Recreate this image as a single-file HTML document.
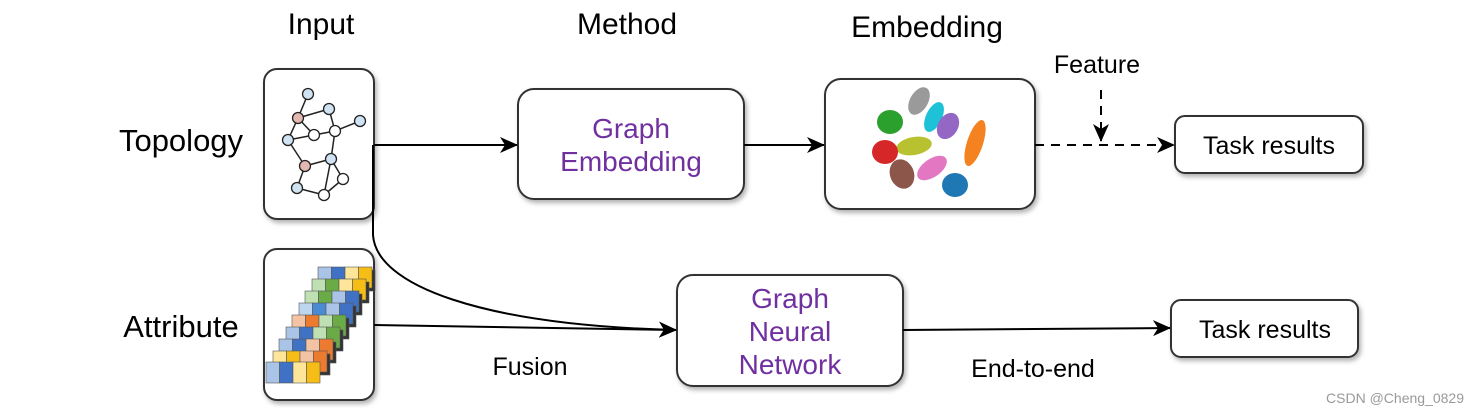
<!DOCTYPE html>
<html><head><meta charset="utf-8"><style>
html,body{margin:0;padding:0;background:#fff;}
svg{display:block;font-family:"Liberation Sans",Arial,sans-serif;}
</style></head><body>
<svg width="1478" height="417" viewBox="0 0 1478 417" xmlns="http://www.w3.org/2000/svg">
<defs>
<filter id="sh" x="-10%" y="-10%" width="125%" height="130%"><feDropShadow dx="2" dy="3" stdDeviation="2.5" flood-color="#000" flood-opacity="0.3"/></filter>
<marker id="ah" markerWidth="18" markerHeight="16" refX="17" refY="8" orient="auto" markerUnits="userSpaceOnUse"><path d="M0,0 L18,8 L0,16 L5,8 Z" fill="#000"/></marker>
</defs>
<g fill="#fff" stroke="#333" stroke-width="2" filter="url(#sh)">
<rect x="264" y="69" width="110" height="150" rx="13"/>
<rect x="264" y="249" width="110" height="151" rx="13"/>
<rect x="518" y="89" width="226" height="110" rx="16"/>
<rect x="825" y="79" width="210" height="130" rx="16"/>
<rect x="1175" y="116" width="188" height="57" rx="10"/>
<rect x="677" y="275" width="226" height="111" rx="16"/>
<rect x="1171" y="300" width="187" height="57" rx="10"/>
</g>
<!-- graph -->
<g stroke="#222" stroke-width="1.5">
<line x1="308" y1="94" x2="298" y2="118"/><line x1="298" y1="118" x2="329" y2="109"/><line x1="329" y1="109" x2="335" y2="131"/><line x1="335" y1="131" x2="360" y2="121"/><line x1="298" y1="118" x2="314" y2="135"/><line x1="298" y1="118" x2="288" y2="140"/><line x1="288" y1="140" x2="314" y2="135"/><line x1="314" y1="135" x2="335" y2="131"/><line x1="335" y1="131" x2="331" y2="159"/><line x1="288" y1="140" x2="305" y2="166"/><line x1="305" y1="166" x2="331" y2="159"/><line x1="305" y1="166" x2="297" y2="188"/><line x1="297" y1="188" x2="324" y2="195"/><line x1="324" y1="195" x2="331" y2="159"/><line x1="331" y1="159" x2="343" y2="179"/><line x1="343" y1="179" x2="324" y2="195"/>
</g>
<g stroke="#222" stroke-width="1.3">
<circle cx="308" cy="94" r="5.5" fill="#cfe3f3"/><circle cx="298" cy="118" r="5.5" fill="#e3b8b0"/><circle cx="329" cy="109" r="5.5" fill="#cfe3f3"/><circle cx="360" cy="121" r="5.5" fill="#cfe3f3"/><circle cx="314" cy="135" r="5.5" fill="#fff"/><circle cx="335" cy="131" r="5.5" fill="#fff"/><circle cx="288" cy="140" r="5.5" fill="#cfe3f3"/><circle cx="305" cy="166" r="5.5" fill="#e3b8b0"/><circle cx="331" cy="159" r="5.5" fill="#cfe3f3"/><circle cx="343" cy="179" r="5.5" fill="#fff"/><circle cx="297" cy="188" r="5.5" fill="#cfe3f3"/><circle cx="324" cy="195" r="5.5" fill="#fff"/>
</g>
<!-- attribute stacks -->
<g stroke="#555" stroke-width="0.6">
<g transform="translate(318,267)"><rect x="3" y="3" width="54" height="21" fill="#333"/><rect width="13.5" height="21" fill="#a9c4e6"/><rect x="13.5" width="13.5" height="21" fill="#3f72c4"/><rect x="27" width="13.5" height="21" fill="#fde59a"/><rect x="40.5" width="13.5" height="21" fill="#f5bd16"/></g>
<g transform="translate(312,279)"><rect x="3" y="3" width="54" height="21" fill="#333"/><rect width="13.5" height="21" fill="#bfe0b2"/><rect x="13.5" width="13.5" height="21" fill="#6aab47"/><rect x="27" width="13.5" height="21" fill="#fde59a"/><rect x="40.5" width="13.5" height="21" fill="#f5bd16"/></g>
<g transform="translate(305,291)"><rect x="3" y="3" width="54" height="21" fill="#333"/><rect width="13.5" height="21" fill="#bfe0b2"/><rect x="13.5" width="13.5" height="21" fill="#6aab47"/><rect x="27" width="13.5" height="21" fill="#a9c4e6"/><rect x="40.5" width="13.5" height="21" fill="#3f72c4"/></g>
<g transform="translate(299,303)"><rect x="3" y="3" width="54" height="21" fill="#333"/><rect width="13.5" height="21" fill="#bcd6ef"/><rect x="13.5" width="13.5" height="21" fill="#4a8bd4"/><rect x="27" width="13.5" height="21" fill="#a9c4e6"/><rect x="40.5" width="13.5" height="21" fill="#3f72c4"/></g>
<g transform="translate(292,315)"><rect x="3" y="3" width="54" height="21" fill="#333"/><rect width="13.5" height="21" fill="#f4c3a4"/><rect x="13.5" width="13.5" height="21" fill="#ec7a2f"/><rect x="27" width="13.5" height="21" fill="#bfe0b2"/><rect x="40.5" width="13.5" height="21" fill="#6aab47"/></g>
<g transform="translate(286,327)"><rect x="3" y="3" width="54" height="21" fill="#333"/><rect width="13.5" height="21" fill="#a9c4e6"/><rect x="13.5" width="13.5" height="21" fill="#3f72c4"/><rect x="27" width="13.5" height="21" fill="#bfe0b2"/><rect x="40.5" width="13.5" height="21" fill="#6aab47"/></g>
<g transform="translate(279,339)"><rect x="3" y="3" width="54" height="21" fill="#333"/><rect width="13.5" height="21" fill="#a9c4e6"/><rect x="13.5" width="13.5" height="21" fill="#3f72c4"/><rect x="27" width="13.5" height="21" fill="#f4c3a4"/><rect x="40.5" width="13.5" height="21" fill="#ec7a2f"/></g>
<g transform="translate(273,351)"><rect x="3" y="3" width="54" height="21" fill="#333"/><rect width="13.5" height="21" fill="#fde59a"/><rect x="13.5" width="13.5" height="21" fill="#f5bd16"/><rect x="27" width="13.5" height="21" fill="#f4c3a4"/><rect x="40.5" width="13.5" height="21" fill="#ec7a2f"/></g>
<g transform="translate(266,362)"><rect width="13.5" height="21" fill="#a9c4e6"/><rect x="13.5" width="13.5" height="21" fill="#3f72c4"/><rect x="27" width="13.5" height="21" fill="#fde59a"/><rect x="40.5" width="13.5" height="21" fill="#f5bd16"/></g>
</g>
<!-- embedding blobs -->
<g>
<ellipse cx="919" cy="101" rx="9" ry="15" transform="rotate(30 919 101)" fill="#9a9a9a"/>
<ellipse cx="934" cy="117" rx="8" ry="16" transform="rotate(25 934 117)" fill="#1ec2d6"/>
<ellipse cx="948" cy="126" rx="10" ry="14" transform="rotate(30 948 126)" fill="#9467c4"/>
<ellipse cx="890" cy="122" rx="13" ry="12" fill="#2ca02c"/>
<ellipse cx="975" cy="143" rx="8" ry="24" transform="rotate(18 975 143)" fill="#f58220"/>
<ellipse cx="914" cy="146" rx="18" ry="9" transform="rotate(-10 914 146)" fill="#b8c230"/>
<ellipse cx="885" cy="152" rx="13" ry="12" fill="#d62728"/>
<ellipse cx="902" cy="174" rx="12" ry="15" transform="rotate(-20 902 174)" fill="#8c564b"/>
<ellipse cx="932" cy="168" rx="9" ry="17" transform="rotate(55 932 168)" fill="#e377c2"/>
<ellipse cx="955" cy="185" rx="13" ry="12" fill="#1f77b4"/>
</g>
<!-- connectors -->
<g fill="none" stroke="#000" stroke-width="2">
<line x1="374" y1="145" x2="517" y2="145" marker-end="url(#ah)"/>
<path d="M373,145 L373,235 C376,285 480,325 676,330" marker-end="url(#ah)"/>
<line x1="374" y1="325" x2="676" y2="330" marker-end="url(#ah)"/>
<line x1="744" y1="145" x2="824" y2="145" marker-end="url(#ah)"/>
<line x1="1035" y1="145" x2="1174" y2="145" stroke-dasharray="9,7" marker-end="url(#ah)"/>
<line x1="1101" y1="90" x2="1101" y2="141" stroke-dasharray="9,7" marker-end="url(#ah)"/>
<line x1="903" y1="330" x2="1170" y2="328" marker-end="url(#ah)"/>
</g>
<!-- text -->
<g fill="#000" text-anchor="middle">
<text x="321" y="34" font-size="30">Input</text>
<text x="627" y="34" font-size="30">Method</text>
<text x="927" y="37" font-size="30">Embedding</text>
<text x="181" y="151" font-size="31">Topology</text>
<text x="181" y="337" font-size="31">Attribute</text>
<text x="1097" y="73" font-size="25">Feature</text>
<text x="1269" y="154" font-size="25">Task results</text>
<text x="1265" y="338" font-size="25">Task results</text>
<text x="530" y="375" font-size="25">Fusion</text>
<text x="1033" y="377" font-size="25">End-to-end</text>
</g>
<g fill="#7030a0" text-anchor="middle" font-size="28">
<text x="631" y="138">Graph</text>
<text x="631" y="171">Embedding</text>
<text x="790" y="308">Graph</text>
<text x="790" y="341">Neural</text>
<text x="790" y="374">Network</text>
</g>
<text x="1464" y="403" font-size="14" fill="#999" text-anchor="end">CSDN @Cheng_0829</text>
</svg>
</body></html>
